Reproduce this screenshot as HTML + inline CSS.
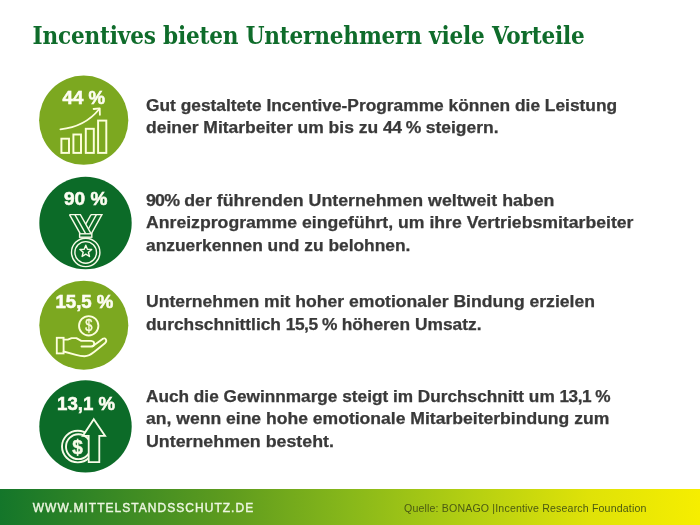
<!DOCTYPE html>
<html lang="de">
<head>
<meta charset="utf-8">
<title>Incentives bieten Unternehmern viele Vorteile</title>
<style>
html,body{margin:0;padding:0;}
body{width:700px;height:525px;position:relative;overflow:hidden;background:#fff;font-family:"Liberation Sans",sans-serif;}
h1{position:absolute;left:32.6px;top:19px;margin:0;font-family:"DejaVu Serif Condensed","DejaVu Serif","Liberation Serif",serif;font-weight:bold;font-size:24px;line-height:34px;color:#0f6c2b;white-space:nowrap;letter-spacing:-0.19px;}
.ic{position:absolute;left:0;top:0;}
.num{font-family:"Liberation Sans",sans-serif;font-weight:bold;font-size:18px;fill:#fdfdf2;stroke:#fdfdf2;stroke-width:0.55px;text-anchor:middle;}
.dl{font-family:"Liberation Sans",sans-serif;font-size:14px;fill:#fcfce0;stroke:#fcfce0;stroke-width:0.35px;text-anchor:middle;}
.db{font-family:"Liberation Sans",sans-serif;font-weight:bold;font-size:18.5px;fill:#f8fbe8;stroke:#f8fbe8;stroke-width:0.4px;text-anchor:middle;}
.t{position:absolute;left:146.2px;margin:0;font-weight:bold;font-size:15.6px;line-height:22px;height:22px;color:#393939;-webkit-text-stroke:0.25px #393939;white-space:nowrap;transform-origin:0 0;}
.d{letter-spacing:-0.45px;}
.d2{letter-spacing:-0.7px;}
.foot{position:absolute;left:0;top:489px;width:700px;height:36px;background:linear-gradient(90deg,#14762a 0%,#5f9c1e 33%,#88b81a 50%,#b4cf12 67%,#dfe208 84%,#f6ee00 100%);}
.foot .w{position:absolute;left:32.7px;top:10.5px;color:#edf6e0;font-weight:normal;-webkit-text-stroke:0.4px #edf6e0;font-size:12px;line-height:16px;letter-spacing:1.03px;white-space:nowrap;}
.foot .q{position:absolute;left:404px;top:12.4px;color:#4b5a12;font-size:10.6px;line-height:14px;letter-spacing:0.16px;white-space:nowrap;}
</style>
</head>
<body>
<h1>Incentives bieten Unternehmern viele Vorteile</h1>



<svg class="ic" width="700" height="525" viewBox="0 0 700 525">
<!-- circle 1 : bar chart -->
<circle cx="83.7" cy="120.2" r="44.6" fill="#7ca820"/>
<text x="0" y="0" class="num" transform="translate(83.8 104.3) scale(1.034 1)">44 %</text>
<g fill="none" stroke="#fdfedc" stroke-width="1.95" stroke-linejoin="miter">
<rect x="61.4" y="138.7" width="7.6" height="14.2"/>
<rect x="73.4" y="134.5" width="7.6" height="18.4"/>
<rect x="85.8" y="128.8" width="8" height="24.1"/>
<rect x="98.1" y="120.6" width="8.2" height="32.3"/>
<path d="M60.4 129.3 Q 85 126.8 99.3 109" stroke-linecap="round" stroke-width="1.8"/>
<path d="M93.6 109 L99.7 108.3 L99.9 114.8" stroke-linecap="round" stroke-linejoin="round" stroke-width="1.8"/>
</g>
<!-- circle 2 : medal -->
<circle cx="85.5" cy="223" r="46.2" fill="#0c6b28"/>
<text x="0" y="0" class="num" transform="translate(85.7 205.1) scale(1.06 1)">90 %</text>
<g fill="none" stroke="#f8fbe8" stroke-width="1.4" stroke-linejoin="miter">
<path d="M69.5 214.6 H80.4 L91 233.6"/>
<path d="M69.5 214.6 L80.2 233.6"/>
<path d="M74.9 214.6 L85.6 233.6"/>
<path d="M91 214.6 H101.9 L91.4 233.6"/>
<path d="M91 214.6 L85.7 224.1"/>
<path d="M96.4 214.6 L88.4 229"/>
<rect x="79.6" y="233.8" width="12.2" height="3.4"/>
<circle cx="85.7" cy="252.4" r="14.2"/>
<circle cx="85.7" cy="252.4" r="10.8"/>
<path d="M85.8 245.2 L87.4 249.2 L91.7 249.5 L88.4 252.3 L89.5 256.5 L85.8 254.2 L82.1 256.5 L83.2 252.3 L79.9 249.5 L84.2 249.2 Z" stroke-linejoin="round"/>
</g>
<!-- circle 3 : hand with coin -->
<circle cx="83.8" cy="325.2" r="44.5" fill="#7ca820"/>
<text x="0" y="0" class="num" transform="translate(84.4 308.1) scale(1.036 1)">15,5 %</text>
<g fill="none" stroke="#fdfedc" stroke-width="1.85" stroke-linejoin="round" stroke-linecap="round">
<circle cx="88.7" cy="325.8" r="9.7"/>
<rect x="56.8" y="337.8" width="6.8" height="15.6" stroke-linejoin="miter"/>
<path d="M63.6 339.6 H67.8 L71.6 338.1 H76.4 L81.3 340.9 H91.2 Q94.2 341.2 94.2 343.7 Q94.2 346.4 91.2 346.5 H81.5"/>
<path d="M92.6 346.2 L102.6 338.9 Q104.9 337.6 106 339.6 Q106.9 341.5 104.9 343.2 L94.4 351.8 Q89 356.2 84.5 356.2 Q80.5 356.2 76 354.9 L63.6 351.5"/>
</g>
<text x="0" y="0" class="dl" transform="translate(88.75 331.3) scale(0.92 1.2)">$</text>
<!-- circle 4 : coin with arrow -->
<circle cx="85.5" cy="426.4" r="46.2" fill="#0c6b28"/>
<text x="0" y="0" class="num" transform="translate(86.0 410) scale(1.035 1)">13,1 %</text>
<g fill="none" stroke="#f8fbe8" stroke-width="1.9">
<circle cx="77.8" cy="446.6" r="15.8"/>
<circle cx="78.4" cy="446.7" r="12.4"/>
</g>
<text x="0" y="0" class="db" transform="translate(77.5 453.8) scale(1.03 1.12)">$</text>
<path d="M93.8 419.2 L105.1 435.9 H99.3 V462.1 H88.7 V435.9 H82.8 Z" fill="#0c6b28" stroke="#f8fbe8" stroke-width="1.8" stroke-linejoin="miter"/>
</svg>

<div class="t" style="top:94.79px;transform:scaleX(1.1118)">Gut gestaltete Incentive-Programme können die Leistung</div>
<div class="t" style="top:117.44px;transform:scaleX(1.1210)">deiner Mitarbeiter um bis zu <span class="d">44 %</span> steigern.</div>
<div class="t" style="top:189.64px;transform:scaleX(1.1398)"><span class="d2">90%</span> der führenden Unternehmen weltweit haben</div>
<div class="t" style="top:212.29px;transform:scaleX(1.1319)">Anreizprogramme eingeführt, um ihre Vertriebsmitarbeiter</div>
<div class="t" style="top:234.94px;transform:scaleX(1.1139)">anzuerkennen und zu belohnen.</div>
<div class="t" style="top:291.39px;transform:scaleX(1.1264)">Unternehmen mit hoher emotionaler Bindung erzielen</div>
<div class="t" style="top:314.04px;transform:scaleX(1.1127)">durchschnittlich <span class="d">15,5 %</span> höheren Umsatz.</div>
<div class="t" style="top:385.59px;transform:scaleX(1.1047)">Auch die Gewinnmarge steigt im Durchschnitt um <span class="d">13,1 %</span></div>
<div class="t" style="top:408.24px;transform:scaleX(1.1258)">an, wenn eine hohe emotionale Mitarbeiterbindung zum</div>
<div class="t" style="top:430.89px;transform:scaleX(1.1417)">Unternehmen besteht.</div>

<div class="foot"><div class="w">WWW.MITTELSTANDSSCHUTZ.DE</div><div class="q">Quelle: BONAGO |Incentive Research Foundation</div></div>
</body>
</html>
